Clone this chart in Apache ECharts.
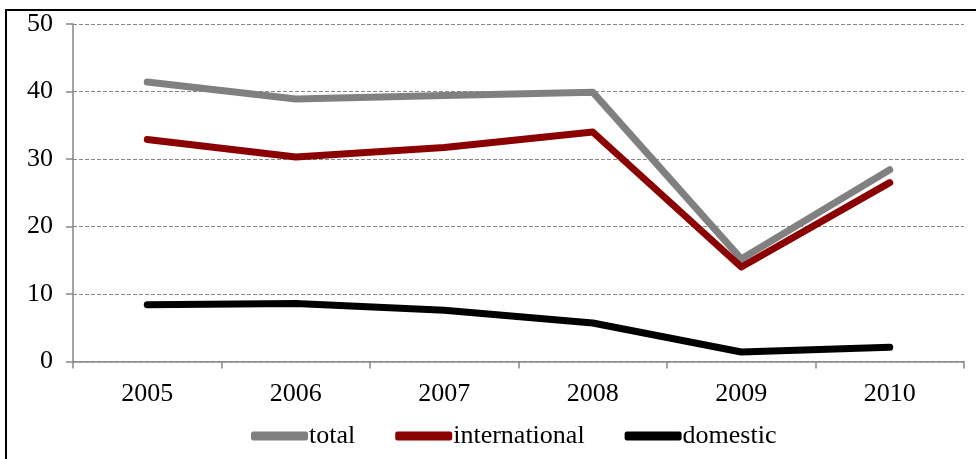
<!DOCTYPE html>
<html><head><meta charset="utf-8">
<script src="https://cdn.jsdelivr.net/npm/echarts@6/dist/echarts.min.js"></script>
<style>html,body{margin:0;padding:0;background:#fff}#c{width:976px;height:459px}</style>
</head><body><div id="c"></div>
<script>
const years = ['2005','2006','2007','2008','2009','2010'];
const total = [41.4, 38.9, 39.4, 39.9, 15.2, 28.4];
const international = [32.9, 30.3, 31.7, 34.0, 14.0, 26.5];
const domestic = [8.4, 8.6, 7.6, 5.7, 1.4, 2.1];
const yTicks = {min: 0, max: 50, interval: 10};

const font = 'Liberation Serif';
const chart = echarts.init(document.getElementById('c'), null, {renderer: 'canvas'});
function mk(name, data, color) {
  return {name, type: 'line', data, symbol: 'none', smooth: false,
    lineStyle: {color, width: 7, cap: 'round', join: 'round'}, itemStyle: {color}};
}
chart.setOption({
  animation: false,
  backgroundColor: '#fff',
  grid: {left: 73, right: 12, top: 24, bottom: 97.5},
  graphic: [{type: 'rect', shape: {x: 6, y: 10, width: 980, height: 460}, style: {fill: 'none', stroke: '#000', lineWidth: 2}, silent: true}],
  xAxis: {type: 'category', data: years, boundaryGap: true,
    axisLine: {lineStyle: {color: '#868686', width: 1.5}},
    axisTick: {show: true, length: 7, alignWithLabel: false, lineStyle: {color: '#868686', width: 1.5}},
    axisLabel: {color: '#000', fontFamily: font, fontSize: 26, margin: 20}},
  yAxis: {type: 'value', min: yTicks.min, max: yTicks.max, interval: yTicks.interval,
    axisLine: {show: true, lineStyle: {color: '#868686', width: 1.5}},
    axisTick: {show: true, length: 7, lineStyle: {color: '#868686', width: 1.5}},
    splitLine: {lineStyle: {color: '#868686', type: [4, 2], width: 1}},
    axisLabel: {color: '#000', fontFamily: font, fontSize: 26, margin: 20}},
  legend: {bottom: 5, left: 246, itemGap: 40, itemWidth: 57, itemHeight: 9,
    icon: 'roundRect', textStyle: {color: '#000', fontFamily: font, fontSize: 26, padding: [0,0,0,-4]},
    data: ['total', 'international', 'domestic']},
  series: [mk('total', total, '#808080'), mk('international', international, '#8b0000'), mk('domestic', domestic, '#000000')]
});
</script></body></html>
